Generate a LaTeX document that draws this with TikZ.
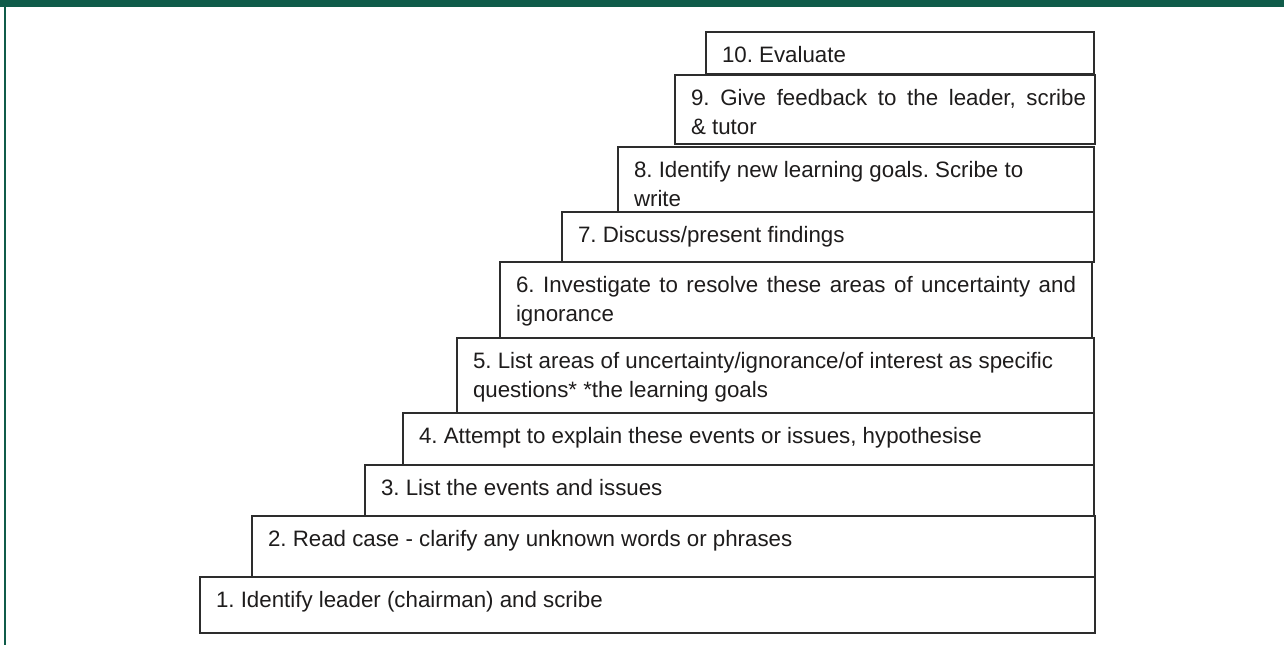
\documentclass[tikz,border=0pt]{standalone}
\usepackage{fontspec}
\setmainfont{Liberation Sans}
\usepackage{tikz}
\newlength{\px}
\setlength{\px}{0.5pt}
\newcommand{\stairtext}[3]{\parbox[b][#2\px][t]{#1\px}{\frenchspacing\raggedright\leftskip=16\px\baselineskip=29\px\rule{0pt}{30\px}#3}}

\begin{document}
\begin{tikzpicture}[x=0.5pt,y=-0.5pt]

	\definecolor{framegreen}{RGB}{16,92,74}
	\definecolor{stairline}{RGB}{45,45,45}
	\definecolor{stairtextcolor}{RGB}{30,28,28}
	\tikzset{stairbox/.style={draw=stairline,line width=1pt,fill=white,inner sep=0pt,anchor=north west,text=stairtextcolor,font=\fontsize{11.15pt}{14.5pt}\selectfont}}

	\useasboundingbox (0,0) rectangle (1284,645);
	\fill[framegreen] (0,0) rectangle (1284,7);
	\fill[framegreen] (4,0) rectangle (6,645);

	\node(s1)[stairbox] at (199,576) {\stairtext{895}{56}{1. Identify leader (chairman) and scribe}};
	\node(s2)[stairbox] at (251,515) {\stairtext{843}{61}{2. Read case - clarify any unknown words or phrases}};
	\node(s3)[stairbox] at (364,464) {\stairtext{729}{51}{3. List the events and issues}};
	\node(s4)[stairbox] at (402,412) {\stairtext{691}{52}{4. Attempt to explain these events or issues, hypothesise}};
	\node(s5)[stairbox] at (456,337) {\stairtext{637}{75}{5. List areas of uncertainty/ignorance/of interest as specific\\questions* *the learning goals}};
	\node(s6)[stairbox] at (499,261) {\stairtext{592}{76}{\makebox[560\px][s]{6. Investigate to resolve these areas of uncertainty and}\\ignorance}};
	\node(s7)[stairbox] at (561,211) {\stairtext{532}{50}{7. Discuss/present findings}};
	\node(s8)[stairbox] at (617,146) {\stairtext{476}{65}{8. Identify new learning goals. Scribe to\\write}};
	\node(s9)[stairbox] at (674,74) {\stairtext{420}{69}{\makebox[395\px][s]{9. Give feedback to the leader, scribe}\\\& tutor}};
	\node(s10)[stairbox] at (705,31) {\stairtext{388}{42}{10. Evaluate}};

\end{tikzpicture}
\end{document}
